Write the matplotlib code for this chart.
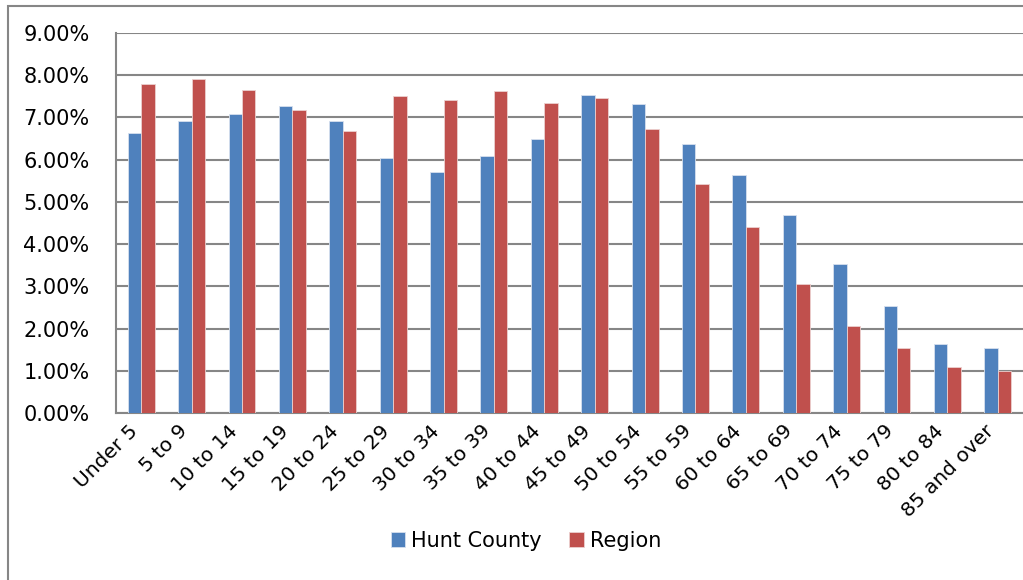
import matplotlib
matplotlib.use("Agg")
import matplotlib.pyplot as plt
import numpy as np
from matplotlib.ticker import FuncFormatter, MultipleLocator
from matplotlib.patches import Rectangle

categories = ["Under 5", "5 to 9", "10 to 14", "15 to 19", "20 to 24", "25 to 29",
              "30 to 34", "35 to 39", "40 to 44", "45 to 49", "50 to 54", "55 to 59",
              "60 to 64", "65 to 69", "70 to 74", "75 to 79", "80 to 84", "85 and over"]
hunt_county = [6.62, 6.92, 7.07, 7.27, 6.92, 6.05, 5.71, 6.08, 6.48, 7.52, 7.31, 6.36,
               5.64, 4.68, 3.53, 2.53, 1.64, 1.53]
region = [7.79, 7.91, 7.64, 7.17, 6.69, 7.50, 7.42, 7.63, 7.34, 7.47, 6.73, 5.42,
          4.40, 3.05, 2.07, 1.55, 1.10, 1.00]
series_names = ["Hunt County", "Region"]
colors = ["#4F81BD", "#C0504D"]

plt.rcParams['font.family'] = ['DejaVu Sans']

W, H = 1023, 580
fig = plt.figure(figsize=(W / 100, H / 100), dpi=100)

# outer chart border (cut off at right/bottom like the reference)
fig.patches.append(Rectangle((8 / W, -0.1), 1.2, (580 - 6) / H + 0.1,
                             transform=fig.transFigure, fill=False,
                             edgecolor="#868686", linewidth=1.5, zorder=0))

ax = fig.add_axes([116 / W, (H - 413) / H, (W - 116) / W, (413 - 33) / H])

x = np.arange(len(categories))
bw = 0.267
ax.bar(x - bw / 2, np.array(hunt_county) / 100, width=bw, color=colors[0],
       edgecolor="#d6e0ee", linewidth=0.6, label=series_names[0], zorder=3)
ax.bar(x + bw / 2, np.array(region) / 100, width=bw, color=colors[1],
       edgecolor="#ecd0cf", linewidth=0.6, label=series_names[1], zorder=3)

ax.set_xlim(-0.5, len(categories) - 0.5)
ax.set_ylim(0, 0.09)
ax.yaxis.set_major_locator(MultipleLocator(0.01))
ax.yaxis.set_major_formatter(FuncFormatter(lambda v, p: f"{v * 100:.2f}%"))
ax.grid(axis="y", color="#868686", linewidth=1.5, zorder=1)
ax.set_axisbelow(True)

for s in ["top", "right"]:
    ax.spines[s].set_visible(False)
for s in ["left", "bottom"]:
    ax.spines[s].set_color("#868686")
    ax.spines[s].set_linewidth(1.5)

ax.set_xticks(x)
ax.set_xticklabels(categories, rotation=45, ha="right", va="top", fontsize=14.5)
ax.tick_params(axis="y", length=0, labelsize=15, colors="black", pad=19)
ax.tick_params(axis="x", length=0, colors="black", pad=6)

leg = fig.legend(loc="center", bbox_to_anchor=(526 / W, 1 - 541 / H), ncol=2,
                 frameon=False, fontsize=15, handlelength=0.7, handleheight=0.7,
                 handletextpad=0.3, columnspacing=1.3)

fig.savefig("out.png", dpi=100)
